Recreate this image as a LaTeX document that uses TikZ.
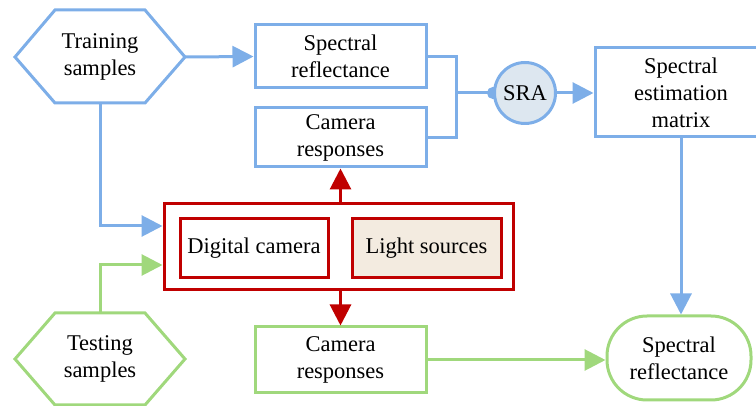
\documentclass[tikz,border=0pt]{standalone}
\usepackage{fontspec}
\setmainfont{Liberation Serif}
\usetikzlibrary{arrows.meta,backgrounds}
\definecolor{cblue}{HTML}{7DAEE8}
\definecolor{cgreen}{HTML}{A0D87C}
\definecolor{cred}{HTML}{C00000}
\definecolor{cfill}{HTML}{DDE7F0}
\definecolor{cbeige}{HTML}{F3EBE0}
\begin{document}
\begin{tikzpicture}[x=1pt,y=-1pt,
  font=\fontsize{22.5}{27}\selectfont,
  line width=3pt,
  >={Triangle[length=21pt,width=21pt]},
  bbox/.style={draw=cblue, minimum width=171pt, align=center, inner sep=0pt},
  gbox/.style={draw=cgreen, align=center, inner sep=0pt},
  rbox/.style={draw=cred, align=center, inner sep=0pt, minimum height=59pt}]
\useasboundingbox (0,0) rectangle (756,406);
\clip (0,0) rectangle (756,406);
% hexagons
\draw[cblue] (15,57) -- (55,10) -- (145,10) -- (185,57) -- (145,103) -- (55,103) -- cycle;
\node[align=center] (train) at (100,57) {Training\\samples};
\coordinate (trE) at (185,57);
\coordinate (trS) at (100,103);
\draw[cgreen] (15,359) -- (55,313) -- (145,313) -- (185,359) -- (145,405) -- (55,405) -- cycle;
\node[align=center] (test) at (100,359) {Testing\\samples};
\coordinate (teN) at (100,313);
% boxes
\node[bbox, minimum height=63pt] (sr) at (340.5,56.5) {Spectral\\reflectance};
\node[bbox, minimum height=59pt] (cr) at (340.5,137.5) {Camera\\responses};
\node[circle, draw=cblue, fill=cfill, minimum size=61pt, inner sep=0pt] (sra) at (525,93) {SRA};
\node[bbox, minimum width=172pt, minimum height=89pt] (sem) at (681,92.5) {Spectral\\estimation\\matrix};
\node[gbox, rounded corners=40pt, minimum width=144pt, minimum height=84pt] (out) at (679,358) {Spectral\\reflectance};
\node[gbox, minimum width=171pt, minimum height=66pt] (crg) at (340.5,360) {Camera\\responses};
\node[draw=cred, minimum width=349pt, minimum height=86pt, inner sep=0pt] (dev) at (338.5,247) {};
\node[rbox, minimum width=148pt] (dc) at (254,248.5) {Digital camera};
\node[rbox, fill=cbeige, minimum width=149pt] (ls) at (426.5,248.5) {Light sources};
% connectors
\coordinate (j) at (456,93);
\begin{scope}[on background layer]
\draw[cblue, line width=3pt, -{Circle[length=12pt]}] (j) -- ([xshift=6pt]sra.west);
\end{scope}
\draw[cblue,->] (trE) -- (sr.west);
\draw[cblue] (sr.east) -- (sr.east -| j) |- (cr.east);
\draw[cblue,->] (sra.east) -- (sra.east -| sem.west);
\draw[cblue,->] (sem.south) -- (sem.south |- out.north);
\draw[cblue,->] (trS) |- ([yshift=21pt]dev.west);
\draw[cgreen,->] (teN) |- ([yshift=-18pt]dev.west);
\draw[cred,->] (dev.north -| cr.south) -- (cr.south);
\draw[cred,->] (dev.south -| crg.north) -- (crg.north);
\draw[cgreen,->] (crg.east) -- (crg.east -| out.west);
\end{tikzpicture}
\end{document}
